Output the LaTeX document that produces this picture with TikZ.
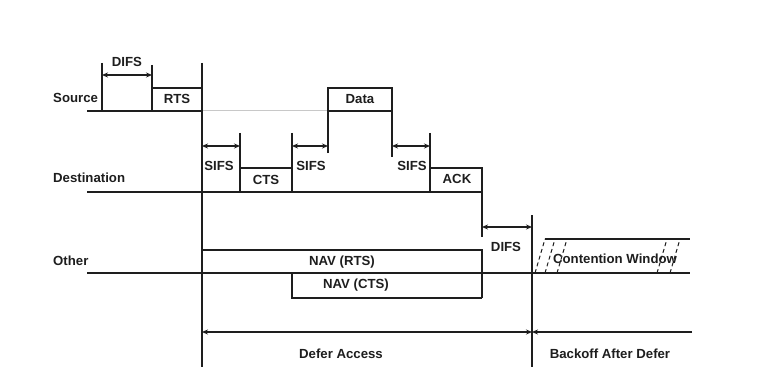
\documentclass[tikz,border=0pt]{standalone}
\usepackage{fontspec}
\setmainfont{Liberation Sans}
\usetikzlibrary{arrows.meta}
\definecolor{ink}{RGB}{30,30,30}
\definecolor{faint}{RGB}{200,200,200}
\begin{document}
\begin{tikzpicture}[x=1pt,y=-1pt,
  lbl/.style={font=\bfseries\fontsize{13.2}{15}\selectfont, inner sep=0pt, text=ink},
  ln/.style={line width=1.1pt, draw=ink},
  faintln/.style={line width=1pt, draw=faint},
  mainline/.style={line width=1.7pt, draw=ink},
  dim/.style={line width=1.3pt, draw=ink, {Stealth[length=6pt,width=5pt]}-{Stealth[length=6pt,width=5pt]}},
  onearrow/.style={line width=1.3pt, draw=ink, -{Stealth[length=6pt,width=5pt]}},
  hatch/.style={line width=1pt, draw=ink, dash pattern=on 4pt off 3pt},
]
\useasboundingbox[fill=white] (0,0) rectangle (768,377);

% key coordinates
\coordinate (t0) at (102,111);
\coordinate (t1) at (152,111);
\coordinate (t2) at (202,111);
\coordinate (t3) at (240,192);
\coordinate (t4) at (292,192);
\coordinate (t5) at (328,111);
\coordinate (t6) at (392,111);
\coordinate (t7) at (430,192);
\coordinate (t8) at (482,192);
\coordinate (t9) at (532,273);

% row labels
\node[lbl, anchor=west] (src) at (53,98) {Source};
\node[lbl, anchor=west] (dst) at (53,178) {Destination};
\node[lbl, anchor=west] (oth) at (53,261) {Other};

% Source row
\draw[ln] (87,111) -- (t2);
\draw[faintln] (t2) -- (t5);
\draw[ln] (t5) -- (t6);
\draw[ln] (102,63) -- (t0);
\draw[ln] (152,65) -- (t1);
\draw[ln] (t1) -- (152,88) -- (202,88);
\draw[dim] (102,75) coordinate (d1a) -- (152,75) coordinate (d1b);
\node[lbl] (difs1) at (127,62) {DIFS};
\node[lbl] (rts) at (177,99) {RTS};
\draw[ln] (328,153) -- (328,88) -- (392,88) -- (392,157);
\node[lbl] (data) at (360,99) {Data};

% main vertical
\draw[mainline] (202,63) -- (202,367);

% Destination row
\draw[ln] (87,192) -- (t8);
\draw[ln] (240,133) -- (t3);
\draw[ln] (240,168) -- (292,168);
\draw[ln] (292,133) -- (t4);
\draw[dim] (202,146) -- (240,146);
\node[lbl] (sifs1) at (219,166) {SIFS};
\node[lbl] (cts) at (266,180) {CTS};
\draw[dim] (292,146) -- (328,146);
\node[lbl] (sifs2) at (311,166) {SIFS};
\draw[dim] (392,146) -- (430,146);
\node[lbl] (sifs3) at (412,166) {SIFS};
\draw[ln] (430,133) -- (t7);
\draw[ln] (430,168) -- (482,168) -- (482,237);
\node[lbl] (ack) at (457,179) {ACK};

% DIFS before contention
\draw[dim] (482,227) -- (532,227);
\node[lbl] (difs2) at (506,247) {DIFS};
\draw[mainline] (532,215) -- (532,367);

% Other row
\draw[ln] (87,273) -- (690,273);
\draw[ln] (202,250) -- (482,250) -- (482,298);
\node[lbl] (navrts) at (342,262) {NAV (RTS)};
\draw[ln] (292,273) -- (292,298) -- (482,298);
\node[lbl] (navcts) at (356,285) {NAV (CTS)};

% Contention window
\draw[ln] (545,239) -- (690,239);
\draw[hatch] (535,273) -- (545,239);
\draw[hatch] (545,273) -- (555,239);
\draw[hatch] (557,273) -- (567,239);
\draw[hatch] (657,273) -- (667,239);
\draw[hatch] (670,273) -- (680,239);
\node[lbl] (cw) at (615,259) {Contention Window};

% bottom arrows
\draw[dim] (202,332) -- (532,332);
\node[lbl] (defer) at (341,354) {Defer Access};
\draw[onearrow] (692,332) -- (532,332);
\node[lbl] (backoff) at (610,354) {Backoff After Defer};
\end{tikzpicture}
\end{document}
